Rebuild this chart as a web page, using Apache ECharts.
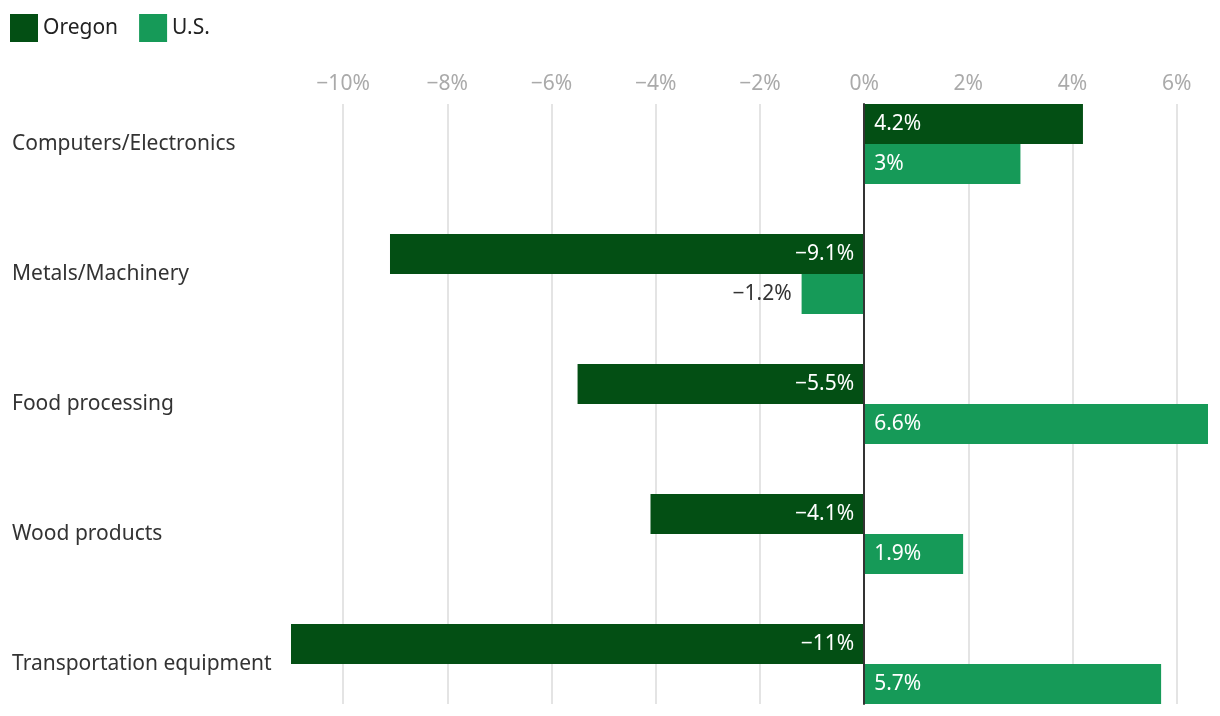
<!DOCTYPE html>
<html>
<head>
<meta charset="utf-8">
<script src="https://cdn.jsdelivr.net/npm/echarts@6/dist/echarts.min.js"></script>
<style>
html,body{margin:0;padding:0;background:#fff;}
#chart{width:1220px;height:716px;}
</style>
</head>
<body>
<div id="chart"></div>
<script>
const categories = ['Computers/Electronics', 'Metals/Machinery', 'Food processing', 'Wood products', 'Transportation equipment'];
const oregon = [4.2, -9.1, -5.5, -4.1, -11];
const us = [3, -1.2, 6.6, 1.9, 5.7];
const tickValues = [-10, -8, -6, -4, -2, 0, 2, 4, 6];
const seriesNames = ['Oregon', 'U.S.'];

const FONT = '"Noto Sans"';
const FS = 21;
const fmt = v => (v < 0 ? '\u2212' + Math.abs(v) : String(v)) + '%';

function buildData(arr) {
  return arr.map(v => {
    const small = Math.abs(v) < 1.5;
    let pos;
    if (v >= 0) pos = small ? 'right' : 'insideLeft';
    else pos = small ? 'left' : 'insideRight';
    return {
      value: v,
      label: {
        position: pos,
        color: small ? '#333' : '#fff'
      }
    };
  });
}

const chart = echarts.init(document.getElementById('chart'));
const GL = 291, GR = 12;
chart.setOption({
  animation: false,
  textStyle: { fontFamily: FONT },
  color: ['#034f14', '#169a58'],
  legend: {
    left: 10, top: 14, padding: 0,
    itemWidth: 28, itemHeight: 28, itemGap: 21,
    icon: 'rect',
    textStyle: { fontSize: FS, color: '#222', fontFamily: FONT, padding: [4, 0, 0, 0] },
    data: seriesNames
  },
  grid: [
    { left: GL, right: GR, top: 79, height: 650, outerBoundsMode: 'none' },
    { left: GL, right: GR, top: 104, height: 600, outerBoundsMode: 'none' }
  ],
  xAxis: [
    { gridIndex: 0, type: 'value', min: -11, max: 6.6, show: false },
    {
      gridIndex: 1, type: 'value', min: -11, max: 6.6, position: 'top',
      axisLine: { show: false },
      axisTick: { show: false, customValues: tickValues },
      axisLabel: {
        customValues: tickValues,
        formatter: fmt, color: '#aaa', fontSize: FS, margin: 9, fontFamily: FONT
      },
      splitLine: { show: true, lineStyle: { color: '#e4e4e4', width: 2 } }
    }
  ],
  yAxis: [
    {
      gridIndex: 0, type: 'category', inverse: true, data: categories,
      axisLine: { show: false, onZero: false },
      axisTick: { show: false },
      axisLabel: { align: 'left', margin: GL - 12, fontSize: FS, color: '#333', fontFamily: FONT, padding: [4, 0, 0, 0] },
      splitLine: { show: false }
    },
    {
      gridIndex: 1, type: 'category', data: [''], z: 10,
      axisLine: { show: true, onZero: true, lineStyle: { color: '#333', width: 2 } },
      axisTick: { show: false },
      axisLabel: { show: false },
      splitLine: { show: false }
    }
  ],
  series: [
    {
      name: seriesNames[0], type: 'bar', xAxisIndex: 0, yAxisIndex: 0,
      barWidth: 40, barGap: '0%',
      data: buildData(oregon),
      label: { show: true, formatter: p => fmt(p.value), fontSize: FS, distance: 10, fontFamily: FONT, padding: [3, 0, 0, 0] }
    },
    {
      name: seriesNames[1], type: 'bar', xAxisIndex: 0, yAxisIndex: 0,
      barWidth: 40, barGap: '0%',
      data: buildData(us),
      label: { show: true, formatter: p => fmt(p.value), fontSize: FS, distance: 10, fontFamily: FONT, padding: [3, 0, 0, 0] }
    }
  ]
});
</script>
</body>
</html>
